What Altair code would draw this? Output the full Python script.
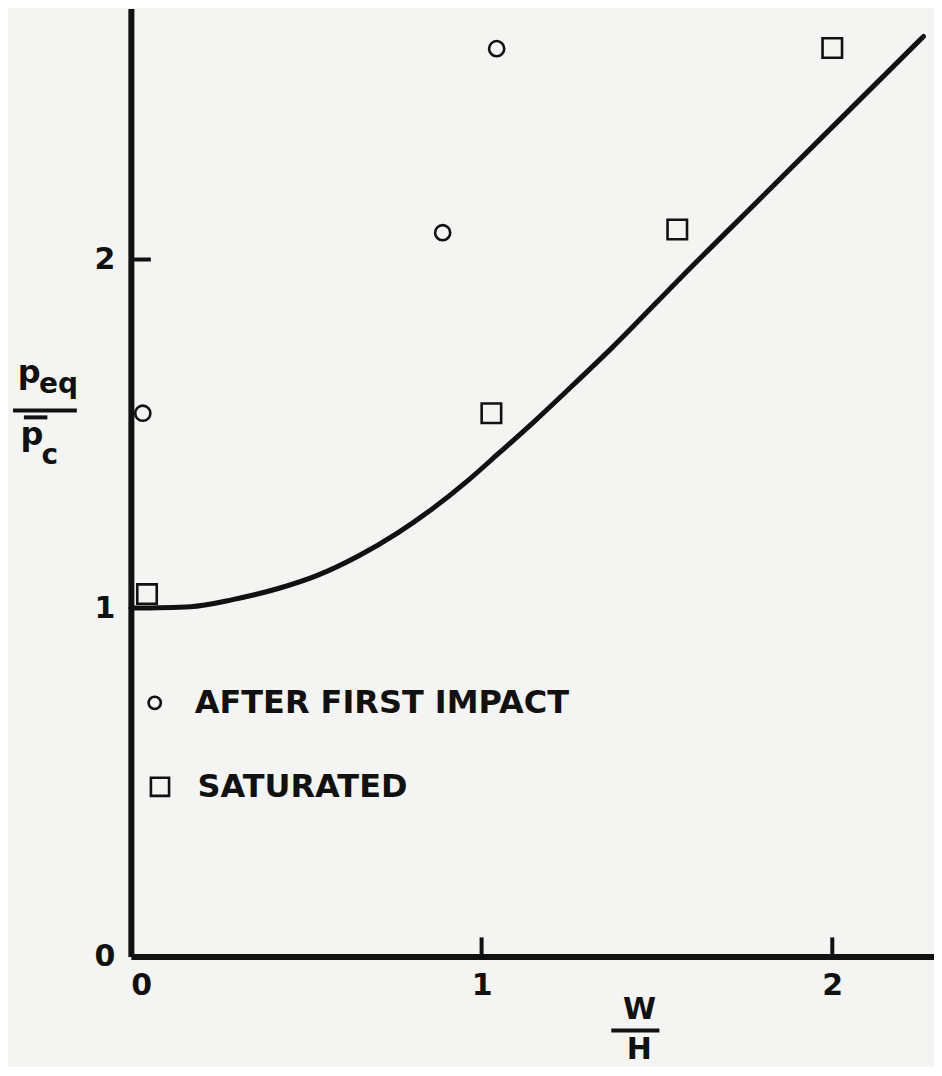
import altair as alt
import pandas as pd

# ---- data ----
curve_x = [0, 0.17, 0.29, 0.42, 0.53, 0.65, 0.76, 0.86, 0.96, 1.05, 1.15, 1.24, 1.37, 1.57, 1.81, 2.05, 2.26]
curve_y = [1.0, 1.004, 1.024, 1.056, 1.093, 1.150, 1.215, 1.285, 1.365, 1.445, 1.535, 1.620, 1.745, 1.950, 2.190, 2.430, 2.640]

impact_x = [0.034, 0.889, 1.043]
impact_y = [1.559, 2.077, 2.605]

sat_x = [0.046, 1.028, 1.558, 2.0]
sat_y = [1.040, 1.559, 2.086, 2.607]

x_ticks = [0, 1, 2]
y_ticks = [0, 1, 2]
legend_labels = ["AFTER FIRST IMPACT", "SATURATED"]

INK = "#111111"
BG = "#f4f4f2"
FONT = "DejaVu Sans"

X_DOM = [0, 2.29]
Y_DOM = [0, 2.72]
xs = alt.Scale(domain=X_DOM, nice=False, zero=False)
ys = alt.Scale(domain=Y_DOM, nice=False, zero=False)

curve_df = pd.DataFrame({"x": curve_x, "y": curve_y})
imp_df = pd.DataFrame({"x": impact_x, "y": impact_y})
sat_df = pd.DataFrame({"x": sat_x, "y": sat_y})

base_x = alt.X("x:Q", scale=xs, axis=alt.Axis(
    values=x_ticks, title=None, ticks=False, grid=False, labelFont=FONT, labelFontWeight="bold",
    labelFontSize=30, labelColor=INK, labelPadding=14, domainColor=INK, domainWidth=6, format="d"))
base_y = alt.Y("y:Q", scale=ys, axis=alt.Axis(
    values=y_ticks, title=None, ticks=False, grid=False, labelFont=FONT, labelFontWeight="bold",
    labelFontSize=30, labelColor=INK, labelPadding=16, domainColor=INK, domainWidth=6, format="d"))

curve = alt.Chart(curve_df).mark_line(color=INK, strokeWidth=5, interpolate="monotone", strokeCap="round").encode(
    x=base_x, y=base_y)

circles = alt.Chart(imp_df).mark_point(shape="circle", size=230, filled=False, color=INK, strokeWidth=2.6, opacity=1).encode(
    x=alt.X("x:Q", scale=xs), y=alt.Y("y:Q", scale=ys))
squares = alt.Chart(sat_df).mark_point(shape="square", size=380, filled=False, color=INK, strokeWidth=2.6, opacity=1).encode(
    x=alt.X("x:Q", scale=xs), y=alt.Y("y:Q", scale=ys))

# inward tick marks
xt_df = pd.DataFrame({"x": [1, 2], "y": [0, 0], "y2": [0.055, 0.055]})
yt_df = pd.DataFrame({"x": [0, 0], "x2": [0.057, 0.057], "y": [1, 2]})
xticks = alt.Chart(xt_df).mark_rule(color=INK, strokeWidth=4).encode(
    x=alt.X("x:Q", scale=xs), y=alt.Y("y:Q", scale=ys), y2="y2:Q")
yticks = alt.Chart(yt_df).mark_rule(color=INK, strokeWidth=4).encode(
    x=alt.X("x:Q", scale=xs), x2="x2:Q", y=alt.Y("y:Q", scale=ys))

# legend (drawn inside plot)
leg_sym_c = alt.Chart(pd.DataFrame({"x": [0.068], "y": [0.728]})).mark_point(
    shape="circle", size=150, filled=False, color=INK, strokeWidth=2.6, opacity=1).encode(
    x=alt.X("x:Q", scale=xs), y=alt.Y("y:Q", scale=ys))
leg_sym_s = alt.Chart(pd.DataFrame({"x": [0.083], "y": [0.487]})).mark_point(
    shape="square", size=330, filled=False, color=INK, strokeWidth=2.6, opacity=1).encode(
    x=alt.X("x:Q", scale=xs), y=alt.Y("y:Q", scale=ys))
leg_txt = alt.Chart(pd.DataFrame({"x": [0.182, 0.19], "y": [0.728, 0.487], "t": legend_labels})).mark_text(
    align="left", baseline="middle", font=FONT, fontWeight="bold", fontSize=32, color=INK).encode(
    x=alt.X("x:Q", scale=xs), y=alt.Y("y:Q", scale=ys), text="t:N")

# axis titles as fractions
def txt(x, y, t, size, align="center"):
    return alt.Chart(pd.DataFrame({"x": [x], "y": [y], "t": [t]})).mark_text(
        align=align, baseline="middle", font=FONT, fontWeight="bold", fontSize=size, color=INK).encode(
        x=alt.X("x:Q", scale=xs), y=alt.Y("y:Q", scale=ys), text="t:N")

def bar(x1, x2, y, w=4):
    return alt.Chart(pd.DataFrame({"x": [x1], "x2": [x2], "y": [y]})).mark_rule(
        color=INK, strokeWidth=w).encode(
        x=alt.X("x:Q", scale=xs), x2="x2:Q", y=alt.Y("y:Q", scale=ys))

ytitle = [
    txt(-0.29, 1.675, "p", 32),
    txt(-0.262, 1.640, "eq", 28, align="left"),
    bar(-0.336, -0.154, 1.567),
    bar(-0.305, -0.238, 1.547),
    txt(-0.282, 1.495, "p", 32),
    txt(-0.255, 1.435, "c", 28, align="left"),
]
xtitle = [
    txt(1.45, -0.153, "W", 30),
    bar(1.37, 1.507, -0.212),
    txt(1.45, -0.268, "H", 30),
]

chart = alt.layer(curve, circles, squares, xticks, yticks, leg_sym_c, leg_sym_s, leg_txt, *ytitle, *xtitle).properties(
    width=804, height=949,
    autosize=alt.AutoSizeParams(type="none"),
    padding={"left": 123, "top": 0, "right": 0, "bottom": 110},
    background=BG,
).configure_view(stroke=None)

chart.save("out.html", embed_options={"renderer": "svg", "actions": False})
